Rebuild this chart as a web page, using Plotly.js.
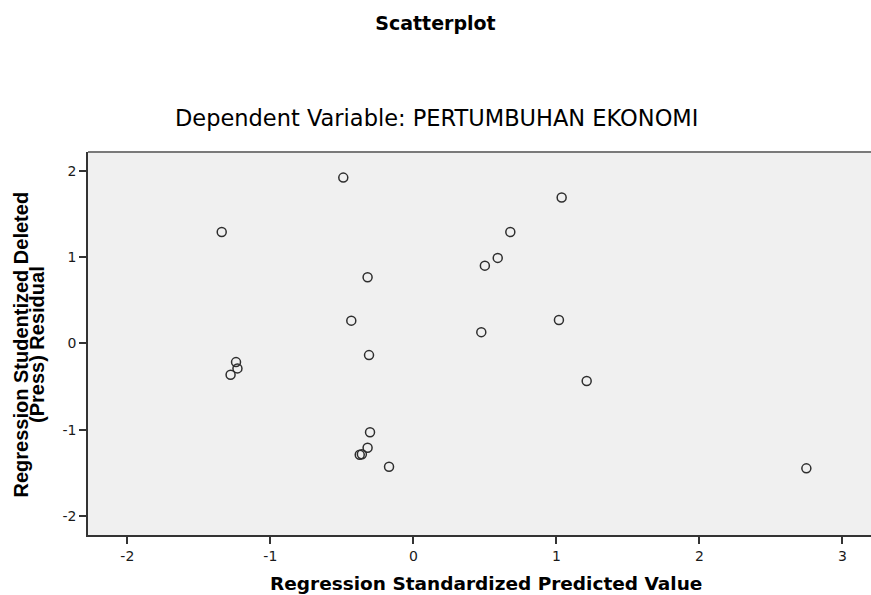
<!DOCTYPE html>
<html>
<head>
<meta charset="utf-8">
<script src="https://cdn.plot.ly/plotly-3.0.1.min.js"></script>
<style>
  html, body { margin: 0; padding: 0; background: #ffffff; overflow: hidden; }
  #chart { width: 871px; height: 595px; }
</style>
</head>
<body>
<div id="chart"></div>
<script>
// ---- data ----
const predictedValues = [-0.49, -1.34, 0.50, -0.32, -0.434, 0.475, -0.31, -1.24, -1.23, -1.278,
                         -0.303, -0.32, -0.375, -0.36, -0.17, 1.037, 0.678, 0.59, 1.018, 1.212, 2.748];
const residualValues  = [1.92, 1.29, 0.90, 0.765, 0.263, 0.13, -0.136, -0.217, -0.29, -0.363,
                         -1.03, -1.21, -1.29, -1.285, -1.43, 1.69, 1.29, 0.99, 0.27, -0.437, -1.448];
const xTickValues = [-2, -1, 0, 1, 2, 3];
const yTickValues = [-2, -1, 0, 1, 2];

const chartTitle = 'Scatterplot';
const chartSubtitle = 'Dependent Variable: PERTUMBUHAN EKONOMI';
const xTitle = 'Regression Standardized Predicted Value';
const yTitleLine1 = 'Regression Studentized Deleted';
const yTitleLine2 = '(Press) Residual';

const trace = {
  type: 'scatter',
  mode: 'markers',
  x: predictedValues,
  y: residualValues,
  marker: {
    symbol: 'circle-open',
    size: 9,
    color: '#2e2e2e',
    line: { width: 1.5, color: '#2e2e2e' }
  },
  hoverinfo: 'x+y',
  showlegend: false
};

const tickFont = { family: 'DejaVu Sans', size: 14, color: '#1a1a1a' };

const layout = {
  width: 871,
  height: 595,
  margin: { l: 88, r: 0, t: 152, b: 60, pad: 0 },
  paper_bgcolor: '#ffffff',
  plot_bgcolor: '#f0f0f0',
  showlegend: false,
  title: {
    text: chartTitle,
    font: { family: 'DejaVu Sans', size: 19, weight: 700, color: '#000000' },
    x: 0.5, xref: 'container', xanchor: 'center',
    y: 1 - 23.7 / 595, yref: 'container', yanchor: 'middle'
  },
  xaxis: {
    range: [-2.275, 3.2],
    tickmode: 'array',
    tickvals: xTickValues,
    ticktext: xTickValues.map(String),
    ticks: 'outside',
    ticklen: 7,
    tickwidth: 1.5,
    tickcolor: '#333333',
    showline: true,
    linecolor: '#333333',
    linewidth: 1.5,
    showgrid: false,
    zeroline: false,
    tickfont: tickFont
  },
  yaxis: {
    range: [-2.22, 2.2166],
    tickmode: 'array',
    tickvals: yTickValues,
    ticktext: yTickValues.map(String),
    ticks: 'outside',
    ticklen: 7,
    tickwidth: 1.5,
    tickcolor: '#333333',
    showline: true,
    linecolor: '#333333',
    linewidth: 1.5,
    showgrid: false,
    zeroline: false,
    tickfont: tickFont
  },
  shapes: [
    { type: 'line', xref: 'paper', yref: 'paper', x0: 0, x1: 1, y0: 1, y1: 1,
      line: { color: '#7a7a7a', width: 2 } }
  ],
  annotations: [
    { text: chartSubtitle, xref: 'paper', yref: 'paper', x: 0, y: 1,
      xanchor: 'center', yanchor: 'middle', xshift: 436 - 88, yshift: 152 - 118,
      showarrow: false,
      font: { family: 'DejaVu Sans', size: 22.5, weight: 500, color: '#000000' } },
    { text: xTitle, xref: 'paper', yref: 'paper', x: 0, y: 0,
      xanchor: 'center', yanchor: 'middle', xshift: 485.5 - 88, yshift: -(583 - 535),
      showarrow: false,
      font: { family: 'DejaVu Sans', size: 18.5, weight: 700, color: '#000000' } },
    { text: yTitleLine1, xref: 'paper', yref: 'paper', x: 0, y: 0.5,
      xanchor: 'center', yanchor: 'middle', xshift: 20.5 - 88, yshift: -1.5,
      textangle: -90, showarrow: false,
      font: { family: 'Liberation Sans', size: 20, weight: 700, color: '#000000' } },
    { text: yTitleLine2, xref: 'paper', yref: 'paper', x: 0, y: 0.5,
      xanchor: 'center', yanchor: 'middle', xshift: 37 - 88, yshift: -1.5,
      textangle: -90, showarrow: false,
      font: { family: 'Liberation Sans', size: 20, weight: 700, color: '#000000' } }
  ]
};

Plotly.newPlot('chart', [trace], layout, { displayModeBar: false });
</script>
</body>
</html>
